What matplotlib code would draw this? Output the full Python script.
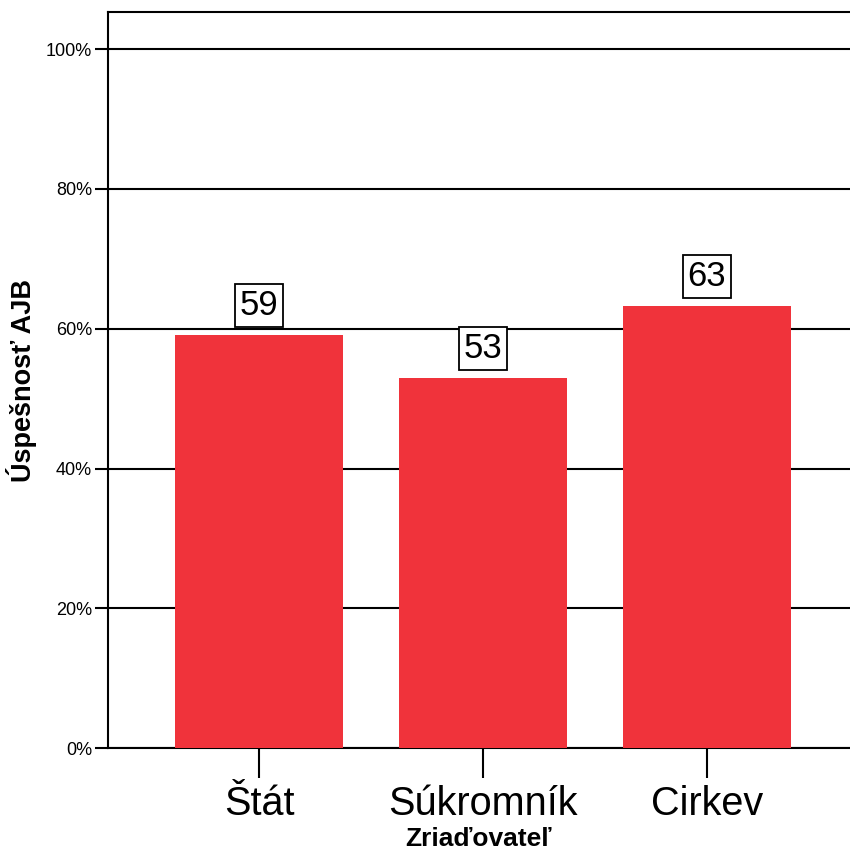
import matplotlib.pyplot as plt

plt.rcParams['font.family'] = ['Liberation Sans', 'DejaVu Sans']

categories = ["Štát", "Súkromník", "Cirkev"]
values = [59.1, 52.9, 63.2]
labels = ["59", "53", "63"]
yticks = [0, 20, 40, 60, 80, 100]

fig = plt.figure(figsize=(8.5, 8.56), dpi=100)
ax = fig.add_axes([0.127, 0.126, 0.873, 0.86])

x = list(range(len(categories)))
ax.bar(x, values, width=0.75, color="#f0333b", zorder=3)

for xi, v, lab in zip(x, values, labels):
    ax.annotate(lab, (xi, v), xytext=(0, 13), textcoords="offset pixels",
                ha="center", va="bottom", fontsize=25, zorder=4,
                bbox=dict(boxstyle="square,pad=0.14", fc="white", ec="black", lw=1.3))

ax.set_xlim(-0.674, 2.638)
ax.set_ylim(0, 105.3)
ax.set_yticks(yticks)
ax.set_yticklabels([str(t) + "%" for t in yticks], fontsize=13)
ax.set_xticks(x)
ax.set_xticklabels(categories, fontsize=28.5)

ax.yaxis.grid(True, color="black", lw=1.5, zorder=1)
ax.set_axisbelow(True)
ax.spines["right"].set_visible(False)
for s in ["left", "top", "bottom"]:
    ax.spines[s].set_linewidth(1.5)
ax.tick_params(axis="y", length=9.5, width=1.5, pad=2)
ax.tick_params(axis="x", length=21.5, width=1.5, pad=5)

ax.set_ylabel("Úspešnosť AJB", fontsize=19.5, fontweight="bold", labelpad=6)
ax.set_xlabel("Zriaďovateľ", fontsize=19, fontweight="bold", labelpad=3)

plt.savefig("out.png", dpi=100)
